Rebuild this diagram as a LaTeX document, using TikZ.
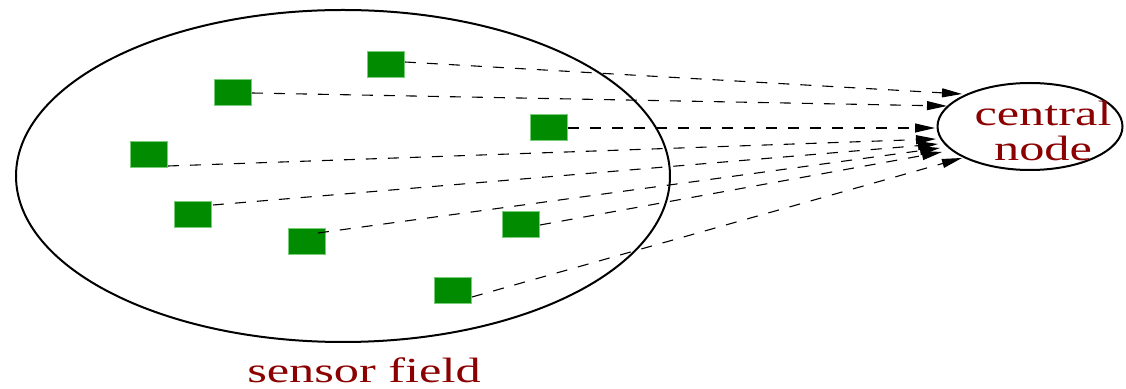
\documentclass[tikz,border=0pt]{standalone}
\usepackage{fontspec}
\setmainfont{Liberation Serif}
\newfontfamily\widserif[FakeStretch=1.43]{Liberation Serif}
\usetikzlibrary{arrows.meta,shapes.geometric}
\definecolor{sensorgreen}{RGB}{0,139,0}
\definecolor{sensoredge}{RGB}{120,205,120}
\definecolor{labelred}{RGB}{139,0,0}
\begin{document}
\begin{tikzpicture}[x=0.5pt,y=-0.5pt,
  sensor/.style={rectangle,fill=sensorgreen,draw=sensoredge,line width=0.4pt,
    minimum width=18.5pt,minimum height=13pt,inner sep=0pt},
  link/.style={dash pattern=on 5.5pt off 5.5pt,line width=0.55pt,
    -{Triangle[length=10pt,width=4.5pt]}},
  region/.style={ellipse,draw,line width=1pt,inner sep=0pt},
  lab/.style={text=labelred,font=\widserif\fontsize{17.6}{17.5}\selectfont,inner sep=0pt}]
\useasboundingbox (0,0) rectangle (1126,389);
% sensor field
\node[region,minimum width=327pt,minimum height=166pt] (field) at (343,176) {};
\node[lab,anchor=base] (fieldlabel) at (364,383) {sensor field};
% central node
\node[region,minimum width=92.5pt,minimum height=43.5pt] (central) at (1030,126.5) {};
\node[lab,align=center] (centrallabel) at (1043,131) {central\\node};
% sensors
\node[sensor] (sA) at (386,64) {};
\node[sensor] (sB) at (233,92) {};
\node[sensor] (sC) at (549,127) {};
\node[sensor] (sD) at (149,154) {};
\node[sensor] (sE) at (193,214) {};
\node[sensor] (sF) at (307,241) {};
\node[sensor] (sG) at (521,224) {};
\node[sensor] (sH) at (453,290) {};
% connector ends
\coordinate (oA) at (405,62);
\coordinate (oB) at (252,93);
\coordinate (oC) at (568,128);
\coordinate (oD) at (168,166);
\coordinate (oE) at (213,205);
\coordinate (oF) at (318,233);
\coordinate (oG) at (540,225);
\coordinate (oH) at (472,297);
\coordinate (tA) at (962,94);
\coordinate (tB) at (947,106);
\coordinate (tC) at (935,128);
\coordinate (tD) at (936,139);
\coordinate (tE) at (938,144);
\coordinate (tF) at (940,148);
\coordinate (tG) at (942,152);
\coordinate (tH) at (962,158);
\foreach \s in {A,B,C,D,E,F,G,H}{
  \draw[link] (o\s) -- (t\s);
}
\end{tikzpicture}
\end{document}
